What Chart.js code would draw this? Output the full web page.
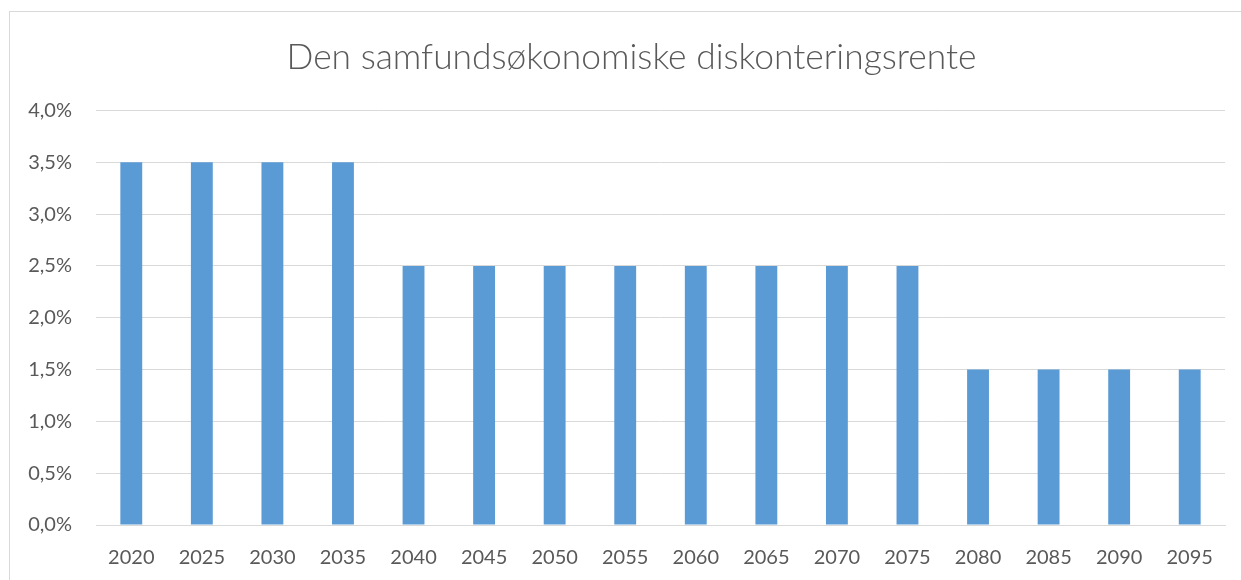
<!DOCTYPE html>
<html lang="da">
<head>
<meta charset="utf-8">
<script src="https://cdn.jsdelivr.net/npm/chart.js@4.4.1/dist/chart.umd.min.js"></script>
<style>
	html, body { margin:0; padding:0; background:#fff; }
	#wrap { position:relative; width:1241px; height:580px; overflow:hidden; }
	#frame { position:absolute; left:9px; top:11px; width:1400px; height:700px; border:1px solid #d9d9d9; box-sizing:border-box; }
	#holder { position:absolute; left:0; top:0; width:1241px; height:580px; }
</style>
</head>
<body>
<div id="wrap">
	<div id="frame"></div>
	<div id="holder"><canvas id="myChart"></canvas></div>
</div>
<script>
var aar    = ["2020","2025","2030","2035","2040","2045","2050","2055","2060","2065","2070","2075","2080","2085","2090","2095"];
var rente  = [3.5, 3.5, 3.5, 3.5, 2.5, 2.5, 2.5, 2.5, 2.5, 2.5, 2.5, 2.5, 1.5, 1.5, 1.5, 1.5];
var titel  = "Den samfundsøkonomiske diskonteringsrente";

var tekstFarve = "#595959";
var gitter     = "#d9d9d9";

function pct(v)
{
	return v.toFixed(1).replace(".", ",") + "%";
}

// titlen sidder lidt til højre for midten i originalen (centreret i rammen)
var flytTitel = {
	id: 'flytTitel',
	afterLayout: function(chart)
	{
		var t = chart.titleBlock;
		if (t) { t.left += 19; t.right += 19; }
	}
};

var ctx = document.getElementById('myChart').getContext('2d');
var myChart = new Chart(ctx, {
	type: 'bar',
	data: {
		labels: aar,
		datasets: [{
			data: rente,
			backgroundColor: "#5b9bd5",
			borderWidth: 0,
			barPercentage: 0.62,
			categoryPercentage: 0.5
		}]
	},
	options: {
		responsive: true,
		maintainAspectRatio: false,
		animation: false,
		layout: { padding: { left: 0, right: 16, top: 18, bottom: 0 } },
		plugins: {
			legend: { display: false },
			tooltip: { enabled: false },
			title: {
				display: true,
				text: titel,
				color: tekstFarve,
				font: { family: "Lato", size: 35.4, weight: 300 },
				padding: { top: 18, bottom: 32 }
			}
		},
		scales: {
			x: {
				grid: { display: false, drawTicks: false },
				border: { display: true, color: gitter, width: 1 },
				ticks: { color: tekstFarve, font: { family: "Lato", size: 20 }, padding: 21, maxRotation: 0 },
				afterFit: function(s) { s.height = 55; }
			},
			y: {
				min: 0,
				max: 4,
				ticks: {
					stepSize: 0.5,
					color: tekstFarve,
					font: { family: "Lato", size: 20 },
					padding: 24,
					callback: function(v) { return pct(v); }
				},
				grid: { color: gitter, lineWidth: 1, drawTicks: false },
				border: { display: false },
				afterFit: function(s) { s.width = 96; }
			}
		}
	},
	plugins: [flytTitel]
});
</script>
</body>
</html>
